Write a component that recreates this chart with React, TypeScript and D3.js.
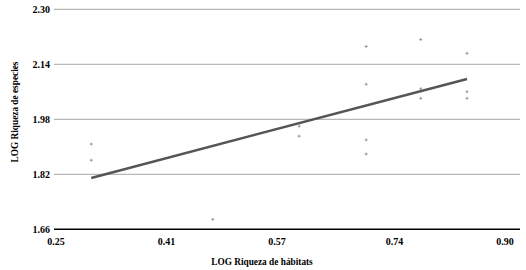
import React from "react";
import * as d3 from "d3";

const habitatLog: number[] = [0.301, 0.301, 0.477, 0.602, 0.602, 0.699, 0.699, 0.699, 0.699, 0.778, 0.778, 0.778, 0.845, 0.845, 0.845];
const speciesLog: number[] = [1.908, 1.861, 1.689, 1.960, 1.931, 2.192, 2.082, 1.920, 1.879, 2.212, 2.069, 2.041, 2.172, 2.060, 2.041];
const xTicks: number[] = [0.25, 0.41, 0.57, 0.74, 0.90];
const yTicks: number[] = [1.66, 1.82, 1.98, 2.14, 2.30];
const xTitle = "LOG Riqueza de hábitats";
const yTitle = "LOG Riqueza de especies";

export default function App() {
  const W = 526, H = 270;
  const x = d3.scaleLinear().domain([0.25, 0.90]).range([56, 505]);
  const y = d3.scaleLinear().domain([1.66, 2.30]).range([229.3, 9.3]);
  const gridX0 = 54, gridX1 = 520;

  const n = habitatLog.length;
  const mx = d3.mean(habitatLog)!;
  const my = d3.mean(speciesLog)!;
  let sxy = 0, sxx = 0;
  for (let i = 0; i < n; i++) {
    sxy += (habitatLog[i] - mx) * (speciesLog[i] - my);
    sxx += (habitatLog[i] - mx) ** 2;
  }
  const slope = sxy / sxx;
  const intercept = my - slope * mx;
  const [xmin, xmax] = d3.extent(habitatLog) as [number, number];
  const trend = d3.line<number>().x((v) => x(v)).y((v) => y(intercept + slope * v));

  const font = "'Liberation Serif', 'Times New Roman', serif";

  return (
    <svg width={W} height={H} style={{ position: "absolute", left: 0, top: 0, background: "#fff" }} fontFamily={font}>
      {yTicks.map((t, i) => (
        <g key={t}>
          <line x1={gridX0} x2={gridX1} y1={y(t)} y2={y(t)} stroke={i === 0 ? "#000" : "#a6a6a6"} strokeWidth={i === 0 ? 1.5 : 1} />
          <text x={50} y={y(t)} dy="0.35em" textAnchor="end" fontSize={10} fontWeight="bold" fill="#000">{t.toFixed(2)}</text>
        </g>
      ))}
      {xTicks.map((t) => (
        <text key={t} x={x(t)} y={245} textAnchor="middle" fontSize={10} fontWeight="bold" fill="#000">{t.toFixed(2)}</text>
      ))}
      {habitatLog.map((v, i) => (
        <g key={i} stroke="#999" strokeWidth={1}>
          <line x1={x(v) - 1.5} x2={x(v) + 1.5} y1={y(speciesLog[i])} y2={y(speciesLog[i])} />
          <line x1={x(v)} x2={x(v)} y1={y(speciesLog[i]) - 1.5} y2={y(speciesLog[i]) + 1.5} />
        </g>
      ))}
      <path d={trend([xmin, xmax]) || ""} stroke="#555" strokeWidth={2.5} fill="none" />
      <text x={262} y={265} textAnchor="middle" fontSize={9.3} fontWeight="bold" fill="#000">{xTitle}</text>
      <text transform={`translate(18,112) rotate(-90)`} textAnchor="middle" fontSize={9.3} fontWeight="bold" fill="#000">{yTitle}</text>
    </svg>
  );
}
